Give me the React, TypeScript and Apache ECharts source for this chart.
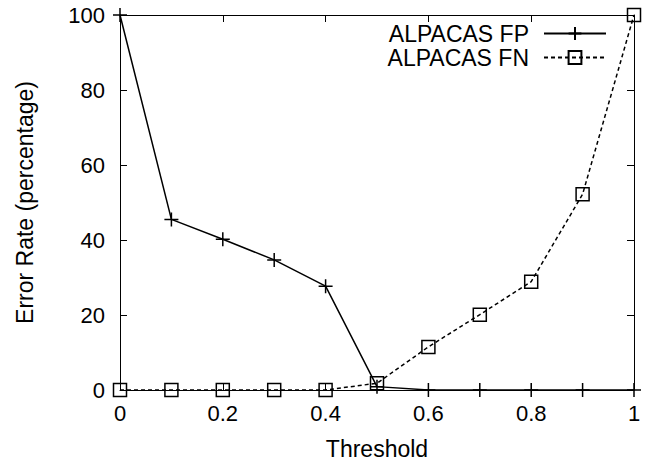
import React, { useEffect, useRef } from "react";
import * as echarts from "echarts";

const thresholds = [0, 0.1, 0.2, 0.3, 0.4, 0.5, 0.6, 0.7, 0.8, 0.9, 1.0];
const fpValues = [100, 45.5, 40.2, 34.7, 27.7, 0.9, 0, 0, 0, 0, 0];
const fnValues = [0, 0, 0, 0, 0, 1.8, 11.5, 20.1, 28.9, 52.2, 100];
const seriesNames = ["ALPACAS FP", "ALPACAS FN"];
const xTitle = "Threshold";
const yTitle = "Error Rate (percentage)";

const FONT = "'Liberation Sans', Arial, Helvetica, sans-serif";
const PLUS = "path://M0,7L14,7M7,0L7,14";

export default function App() {
  const ref = useRef<HTMLDivElement>(null);
  useEffect(() => {
    if (!ref.current) return;
    const chart = echarts.init(ref.current, undefined, { renderer: "svg" });
    const axisCommon = {
      axisLine: { show: true, onZero: false, lineStyle: { color: "#000", width: 1 } },
      axisTick: { show: true, inside: true, length: 7, lineStyle: { color: "#000", width: 1 } },
      splitLine: { show: false },
    };
    chart.setOption({
      animation: false,
      backgroundColor: "#fff",
      grid: {
        left: 120,
        right: 22,
        top: 15,
        bottom: 71,
        containLabel: false,
        outerBoundsMode: "none",
      },
      legend: {
        orient: "vertical",
        right: 44,
        top: 17,
        align: "right",
        itemWidth: 62,
        itemHeight: 16,
        itemGap: 1,
        data: seriesNames,
        textStyle: {
          fontFamily: FONT,
          fontSize: 23,
          lineHeight: 21,
          color: "#000",
          padding: [0, 10, 0, 0],
        },
      },
      xAxis: [
        {
          type: "value",
          min: 0,
          max: 1,
          interval: 0.2,
          position: "bottom",
          name: xTitle,
          nameLocation: "middle",
          nameGap: 47,
          nameTextStyle: { fontFamily: FONT, fontSize: 23, color: "#000" },
          axisLabel: { fontFamily: FONT, fontSize: 22, color: "#000", margin: 12 },
          ...axisCommon,
        },
        {
          type: "value",
          min: 0,
          max: 1,
          interval: 0.2,
          position: "top",
          axisLabel: { show: false },
          ...axisCommon,
        },
      ],
      yAxis: [
        {
          type: "value",
          min: 0,
          max: 100,
          interval: 20,
          position: "left",
          name: yTitle,
          nameLocation: "middle",
          nameGap: 84,
          nameTextStyle: { fontFamily: FONT, fontSize: 23, color: "#000" },
          axisLabel: { fontFamily: FONT, fontSize: 22, color: "#000", margin: 15 },
          ...axisCommon,
        },
        {
          type: "value",
          min: 0,
          max: 100,
          interval: 20,
          position: "right",
          axisLabel: { show: false },
          ...axisCommon,
        },
      ],
      series: [
        {
          name: seriesNames[0],
          type: "line",
          xAxisIndex: 0,
          yAxisIndex: 0,
          clip: false,
          data: thresholds.map((t, i) => [t, fpValues[i]]),
          symbol: PLUS,
          symbolSize: 14,
          showSymbol: true,
          itemStyle: { color: "#000", borderColor: "#000", borderWidth: 1.5 },
          lineStyle: { color: "#000", width: 1.5, type: "solid" },
          emphasis: { disabled: true },
          z: 3,
        },
        {
          name: seriesNames[1],
          type: "line",
          xAxisIndex: 0,
          yAxisIndex: 0,
          clip: false,
          data: thresholds.map((t, i) => [t, fnValues[i]]),
          symbol: "rect",
          symbolSize: 13,
          showSymbol: true,
          itemStyle: { color: "rgba(0,0,0,0)", borderColor: "#000", borderWidth: 1.5 },
          lineStyle: { color: "#000", width: 1.5, type: [4, 3] },
          emphasis: { disabled: true },
          z: 2,
        },
      ],
    });
    return () => chart.dispose();
  }, []);
  return (
    <div
      ref={ref}
      style={{ position: "absolute", left: 0, top: 0, width: 656, height: 461 }}
    />
  );
}
